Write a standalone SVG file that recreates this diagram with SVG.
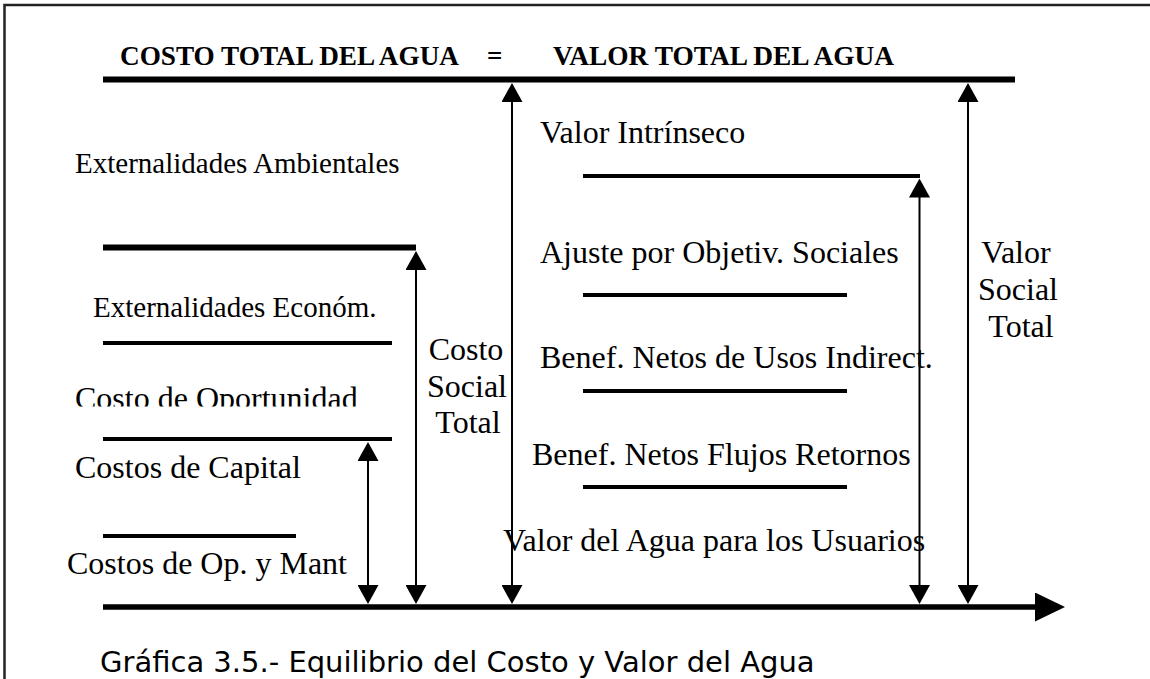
<svg xmlns="http://www.w3.org/2000/svg" width="1150" height="679" viewBox="0 0 1150 679">
<style>
.lbl{font-family:"Liberation Serif","Times New Roman",serif;font-size:32px;fill:#000}
.sm{font-size:29px}
.ttl{font-family:"Liberation Serif","Times New Roman",serif;font-size:27px;font-weight:bold;fill:#000}
.cap{font-family:"DejaVu Sans",Verdana,sans-serif;font-size:29px;fill:#000}
.lv{stroke:#000;stroke-width:4;fill:none}
.thick{stroke:#000;stroke-width:6;fill:none}
.shaft{stroke:#000;stroke-width:2;fill:none;marker-start:url(#ah);marker-end:url(#ah)}
</style>
<defs>
<marker id="ah" viewBox="0 0 19 21" refX="0.5" refY="10.5" markerWidth="19" markerHeight="21" markerUnits="userSpaceOnUse" orient="auto-start-reverse">
<path d="M0,0 L19,10.5 L0,21 Z" fill="#000"/>
</marker>
<marker id="ahAxis" viewBox="0 0 30 29" refX="1" refY="14.5" markerWidth="30" markerHeight="29" markerUnits="userSpaceOnUse" orient="auto">
<path d="M0,0 L30,14.5 L0,29 Z" fill="#000"/>
</marker>
<clipPath id="clipOp"><rect x="60" y="370" width="320" height="36.5"/></clipPath>
</defs>
<rect width="1150" height="679" fill="#fff"/>
<g id="frame" fill="none" stroke="#222" stroke-width="2.5">
<path d="M4.5,679 L4.5,5 L1150,5"/>
</g>
<g id="title">
<text class="ttl" y="65"><tspan x="120" textLength="339" lengthAdjust="spacingAndGlyphs">COSTO TOTAL DEL AGUA</tspan><tspan x="487">=</tspan><tspan x="553" textLength="341" lengthAdjust="spacingAndGlyphs">VALOR TOTAL DEL AGUA</tspan></text>
<line class="thick" x1="103" y1="79.5" x2="1015" y2="79.5"/>
</g>
<g id="cost-levels">
<line class="thick" x1="103" y1="247.5" x2="416" y2="247.5"/>
<line class="lv" x1="103" y1="343" x2="392" y2="343"/>
<line class="lv" x1="103" y1="439" x2="392" y2="439"/>
<line class="lv" x1="103" y1="536" x2="296" y2="536"/>
</g>
<g id="value-levels">
<line class="lv" x1="583" y1="176" x2="920" y2="176"/>
<line class="lv" x1="583" y1="295" x2="847" y2="295"/>
<line class="lv" x1="583" y1="391" x2="847" y2="391"/>
<line class="lv" x1="583" y1="487" x2="847" y2="487"/>
</g>
<g id="node-ext-amb"><text class="lbl sm" x="75" y="172.5">Externalidades Ambientales</text></g>
<g id="node-ext-econ"><text class="lbl sm" x="93" y="317">Externalidades Económ.</text></g>
<g id="node-oport"><text class="lbl" x="75" y="408.5" clip-path="url(#clipOp)">Costo de Oportunidad</text></g>
<g id="node-capital"><text class="lbl" x="75" y="478">Costos de Capital</text></g>
<g id="node-opmant"><text class="lbl" x="67" y="574">Costos de Op. y Mant</text></g>
<g id="node-costo-social"><text class="lbl" text-anchor="middle"><tspan x="466" y="360">Costo</tspan><tspan x="467" y="396.5">Social</tspan><tspan x="468" y="433">Total</tspan></text></g>
<g id="node-intrinseco"><text class="lbl" x="540" y="143">Valor Intrínseco</text></g>
<g id="node-ajuste"><text class="lbl" x="540" y="263">Ajuste por Objetiv. Sociales</text></g>
<g id="node-indirect"><text class="lbl" x="540" y="368">Benef. Netos de Usos Indirect.</text></g>
<g id="node-retornos"><text class="lbl" x="532" y="465">Benef. Netos Flujos Retornos</text></g>
<g id="node-usuarios"><text class="lbl" x="503" y="551">Valor del Agua para los Usuarios</text></g>
<g id="node-valor-social"><text class="lbl" text-anchor="middle"><tspan x="1016" y="263">Valor</tspan><tspan x="1018" y="300">Social</tspan><tspan x="1021" y="337">Total</tspan></text></g>
<g id="connectors">
<line x1="103" y1="607" x2="1036" y2="607" stroke="#000" stroke-width="5.5" marker-end="url(#ahAxis)"/>
<line class="shaft" x1="368" y1="460.5" x2="368" y2="585.5"/>
<line class="shaft" x1="416" y1="269.5" x2="416" y2="585.5"/>
<line class="shaft" x1="512" y1="101.5" x2="512" y2="585.5"/>
<line class="shaft" x1="919.5" y1="197" x2="919.5" y2="585.5"/>
<line class="shaft" x1="968" y1="101.5" x2="968" y2="585.5"/>
</g>
<g id="caption"><text class="cap" x="100" y="672">Gráfica 3.5.- Equilibrio del Costo y Valor del Agua</text></g>
</svg>
